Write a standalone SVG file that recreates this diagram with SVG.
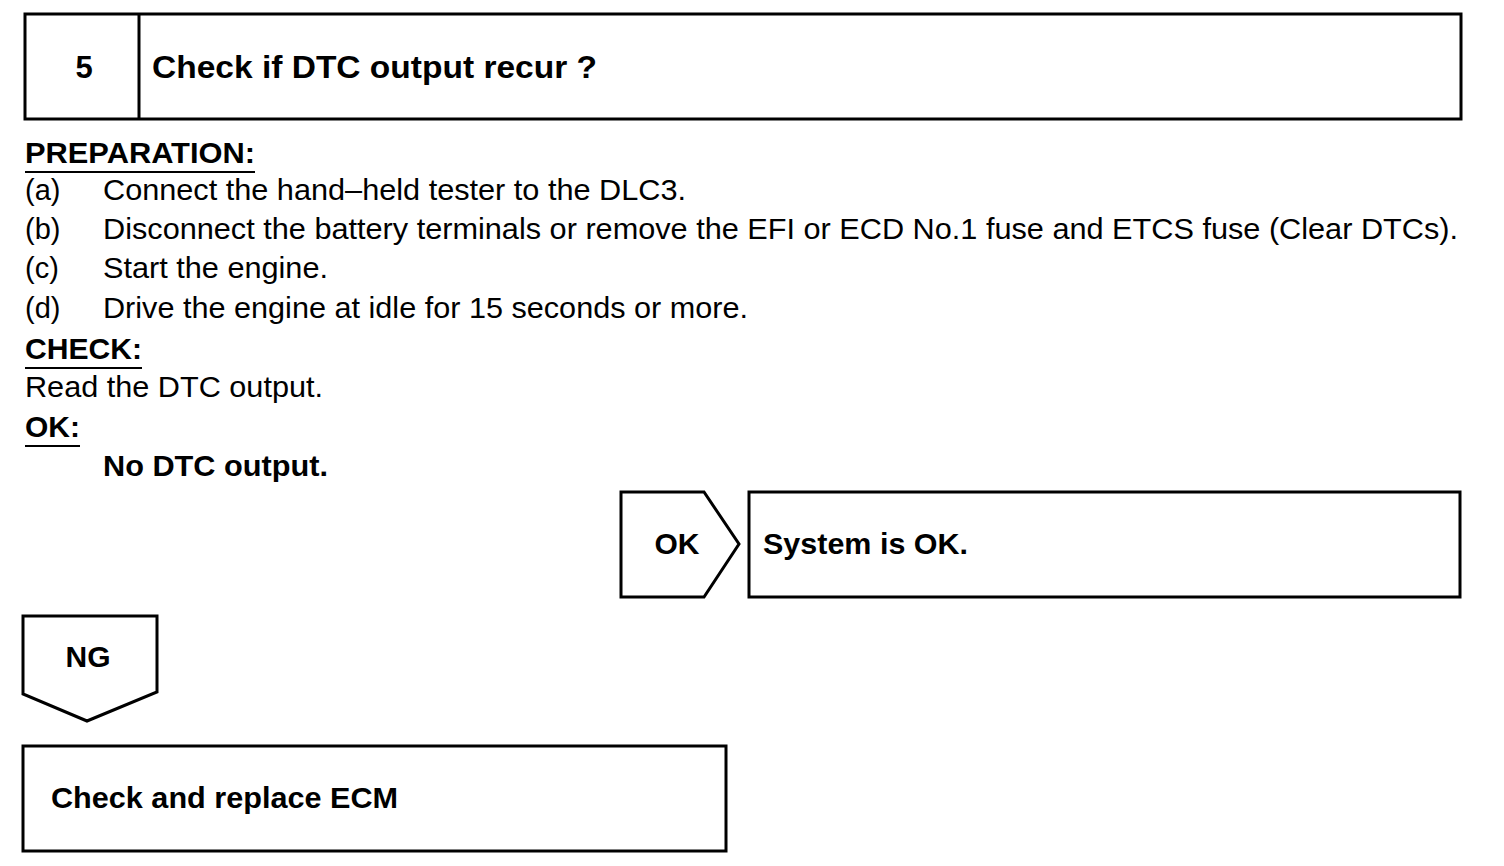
<svg xmlns="http://www.w3.org/2000/svg" width="1504" height="866" viewBox="0 0 1504 866">
<style>
.box{fill:#fff;stroke:#000;stroke-width:3}
.b{font-family:"Liberation Sans",Arial,sans-serif;font-weight:bold;font-size:30px;fill:#000}
.h{font-family:"Liberation Sans",Arial,sans-serif;font-weight:bold;font-size:31px;fill:#000}
.r{font-family:"Liberation Sans",Arial,sans-serif;font-size:29px;fill:#000}
.ul{stroke:#000;stroke-width:2}
</style>
<rect width="1504" height="866" fill="#fff"/>
<g id="header">
<rect class="box" x="25" y="14" width="1436" height="105"/>
<line x1="139" y1="14" x2="139" y2="119" stroke="#000" stroke-width="3"/>
<text class="h" x="84" y="78" text-anchor="middle">5</text>
<text class="h" x="152" y="78" textLength="445" lengthAdjust="spacingAndGlyphs">Check if DTC output recur ?</text>
</g>
<g id="body">
<text class="b" x="25" y="163" textLength="230" lengthAdjust="spacingAndGlyphs">PREPARATION:</text>
<line class="ul" x1="25" y1="172" x2="255" y2="172"/>
<text class="r" x="25" y="200">(a)</text>
<text class="r" x="103" y="200" textLength="583" lengthAdjust="spacingAndGlyphs">Connect the hand–held tester to the DLC3.</text>
<text class="r" x="25" y="239">(b)</text>
<text class="r" x="103" y="239" textLength="1355" lengthAdjust="spacingAndGlyphs">Disconnect the battery terminals or remove the EFI or ECD No.1 fuse and ETCS fuse (Clear DTCs).</text>
<text class="r" x="25" y="278">(c)</text>
<text class="r" x="103" y="278" textLength="225" lengthAdjust="spacingAndGlyphs">Start the engine.</text>
<text class="r" x="25" y="318">(d)</text>
<text class="r" x="103" y="318" textLength="645" lengthAdjust="spacingAndGlyphs">Drive the engine at idle for 15 seconds or more.</text>
<text class="b" x="25" y="359" textLength="117" lengthAdjust="spacingAndGlyphs">CHECK:</text>
<line class="ul" x1="25" y1="368" x2="142" y2="368"/>
<text class="r" x="25" y="397" textLength="298" lengthAdjust="spacingAndGlyphs">Read the DTC output.</text>
<text class="b" x="25" y="437" textLength="55" lengthAdjust="spacingAndGlyphs">OK:</text>
<line class="ul" x1="25" y1="446" x2="80" y2="446"/>
<text class="b" x="103" y="476" textLength="225" lengthAdjust="spacingAndGlyphs">No DTC output.</text>
</g>
<g id="ok-tag">
<polygon class="box" points="621,492 704,492 739,544 704,597 621,597"/>
<text class="b" x="677" y="554" text-anchor="middle">OK</text>
</g>
<g id="system-ok">
<rect class="box" x="749" y="492" width="711" height="105"/>
<text class="b" x="763" y="554" textLength="205" lengthAdjust="spacingAndGlyphs">System is OK.</text>
</g>
<g id="ng-tag">
<polygon class="box" points="23,616 157,616 157,692 87,721 23,694"/>
<text class="b" x="88" y="667" text-anchor="middle">NG</text>
</g>
<g id="replace-ecm">
<rect class="box" x="23" y="746" width="703" height="105"/>
<text class="b" x="51" y="808" textLength="347" lengthAdjust="spacingAndGlyphs">Check and replace ECM</text>
</g>
<g id="connectors"></g>
</svg>
